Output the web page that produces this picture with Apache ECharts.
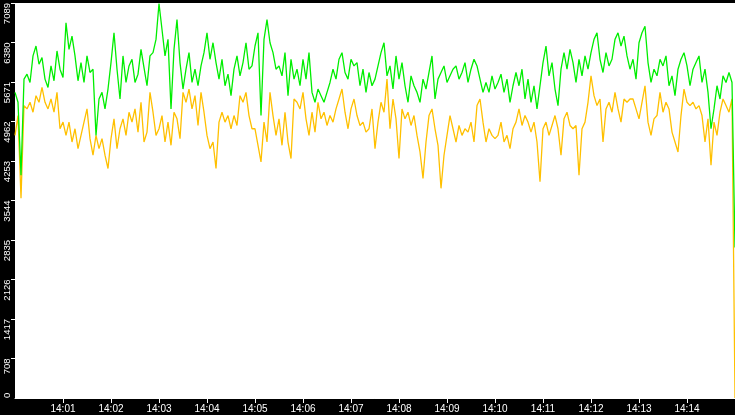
<!DOCTYPE html>
<html>
<head>
<meta charset="utf-8">
<script src="https://cdn.jsdelivr.net/npm/echarts@6/dist/echarts.min.js"></script>
<style>
html,body{margin:0;padding:0;background:#000;}
#chart{width:735px;height:415px;}
</style>
</head>
<body>
<div id="chart"></div>
<script>
// x positions: seconds after 14:00:00, one sample every STEP_SECONDS
const STEP_SECONDS = 3.75;
const X_TICK_SECONDS = [60,120,180,240,300,360,420,480,540,600,660,720,780,840];
const X_TICK_LABELS = ['14:01','14:02','14:03','14:04','14:05','14:06','14:07','14:08','14:09','14:10','14:11','14:12','14:13','14:14'];
const Y_MAX = 7089;
const Y_INTERVAL = 708.9;

const greenValues = [
5485,5307,4000,5723,5812,5663,6139,6317,5990,6109,
5723,5574,5960,5693,6228,5901,5753,6733,6257,6495,
6139,5693,6020,5663,6139,5842,5901,4713,5366,5485,
5188,5545,6020,6554,5901,5366,6139,5663,5960,6079,
5663,5812,6257,5931,5604,6139,6198,6436,7080,6614,
6139,6436,5188,6257,6792,6020,5545,5901,6198,5663,
5901,5604,5960,6198,6554,6079,6376,6020,5723,6079,
5604,5812,5426,5901,6139,5782,6020,6376,5901,5960,
6317,6554,5069,6436,6792,6376,6198,5901,5960,5782,
6198,5426,6079,5723,5901,5604,6079,5723,6198,5485,
5307,5545,5426,5307,5485,5663,5901,5723,6079,6198,
5842,5723,6079,5960,6020,5604,5901,5485,5842,5604,
5723,5960,6198,6376,5782,5960,5545,6139,5723,6020,
5604,5307,5782,5604,5485,5307,5723,5545,5842,6139,
5366,5723,5842,5960,5663,5782,5901,5960,5723,5842,
6020,5663,5901,6079,5960,5723,5485,5663,5485,5782,
5545,5663,5812,5485,5723,5307,5604,5842,5604,5901,
5366,5723,5307,5604,5188,5604,6020,6317,5782,6020,
5545,5248,5901,6198,5901,6257,6020,5663,6079,5782,
6139,5901,6198,6436,6554,6079,5842,6198,5960,6079,
6436,6554,6317,6495,6139,5901,6079,5723,6376,6554,
6673,6020,5663,5901,5782,6079,5960,6139,5604,5782,
5426,5901,6079,6198,5960,5604,5901,6020,6139,5663,
5901,5485,4832,5188,5604,5366,5782,5663,5842,5663,
2700
];

const orangeValues = [
4713,5069,3584,5248,5188,5307,5129,5426,5307,5574,
5307,5188,5366,5129,5485,4832,4951,4713,4951,4594,
4832,4475,4713,4951,5188,4654,4357,4713,4475,4654,
4357,4119,4654,5010,4475,4832,5010,4713,5129,4951,
5188,4772,5307,4594,4772,5485,5129,4713,4832,5069,
4594,4951,4535,5129,5010,4654,5485,5307,5545,5188,
5426,4891,5485,5129,4713,4475,4594,4119,4951,5129,
4951,5069,4832,5069,4891,5426,5307,5485,5069,4832,
4832,4535,4238,4951,4594,5485,5069,4713,5010,4535,
5129,4594,4297,5366,5307,5188,5485,5010,4713,5129,
4772,5307,5010,5129,4891,5069,4951,5188,5366,5545,
5129,4832,5188,5366,5069,4891,4951,4772,4832,5188,
4475,4951,5307,5129,5723,4832,5366,5010,4297,5188,
5010,5129,4891,5069,4713,4416,3941,4594,5069,5188,
4832,4535,3763,4357,4713,5069,4832,4594,4891,4713,
4832,4772,4951,4594,5248,5366,4951,4594,4832,4713,
4654,4713,4951,4594,4713,4475,4832,4951,5188,4891,
5069,4951,4772,4951,4594,3881,4832,4951,4713,4891,
5069,4832,4357,5010,5129,4891,4832,4891,4000,4832,
4951,5307,5782,5426,5248,5366,4594,5188,5307,5129,
5485,5188,4951,5366,5307,5366,5366,5188,5010,5307,
5604,4951,4713,5010,5069,5485,5129,5307,5188,4772,
4594,4416,5069,5545,5307,5248,5307,5188,5248,5069,
4594,5010,4178,4951,4713,5129,5366,5248,5129,5366,
0
];

const toPoints = vals => vals.map((v, i) => [i * STEP_SECONDS, v]);
const FONT = 'Liberation Sans';

const chart = echarts.init(document.getElementById('chart'), null, {renderer: 'canvas'});
chart.setOption({
  backgroundColor: '#000',
  animation: false,
  grid: {left: 15, right: 0, top: 0, bottom: 17, show: true, backgroundColor: '#fff', borderWidth: 0},
  xAxis: {
    type: 'value', min: 0, max: 900,
    axisLine: {show: true, lineStyle: {color: '#fff', width: 1}},
    axisTick: {show: true, customValues: X_TICK_SECONDS, length: 5, lineStyle: {color: '#fff'}},
    axisLabel: {
      customValues: X_TICK_SECONDS,
      formatter: v => X_TICK_LABELS[X_TICK_SECONDS.indexOf(Math.round(v))] || '',
      color: '#fff', fontFamily: FONT, fontSize: 10, margin: 6
    },
    splitLine: {show: false}
  },
  yAxis: [{
    type: 'value', min: 0, max: Y_MAX, interval: Y_INTERVAL,
    axisLine: {show: false},
    axisTick: {show: true, length: 4, lineStyle: {color: '#fff'}},
    axisLabel: {
      rotate: 90, align: 'right', verticalAlign: 'bottom', margin: 3,
      color: '#fff', fontFamily: FONT, fontSize: 9.5, showMinLabel: false,
      formatter: v => String(Math.floor(v + 1e-6))
    },
    splitLine: {show: false}
  }, {
    type: 'value', min: 0, max: Y_MAX, position: 'left', offset: 0,
    axisLine: {show: false}, axisTick: {show: false},
    axisLabel: {
      customValues: [0], rotate: 90, align: 'left', verticalAlign: 'bottom', margin: 3,
      color: '#fff', fontFamily: FONT, fontSize: 9.5
    },
    splitLine: {show: false}
  }],
  series: [{
    name: 'orange', type: 'line', yAxisIndex: 0, data: toPoints(orangeValues),
    showSymbol: false, symbol: 'none', sampling: null,
    lineStyle: {color: '#ffc000', width: 1.3}, z: 2
  }, {
    name: 'green', type: 'line', yAxisIndex: 0, data: toPoints(greenValues),
    showSymbol: false, symbol: 'none', sampling: null,
    lineStyle: {color: '#00ee00', width: 1.3}, z: 3
  }]
});
</script>
</body>
</html>
